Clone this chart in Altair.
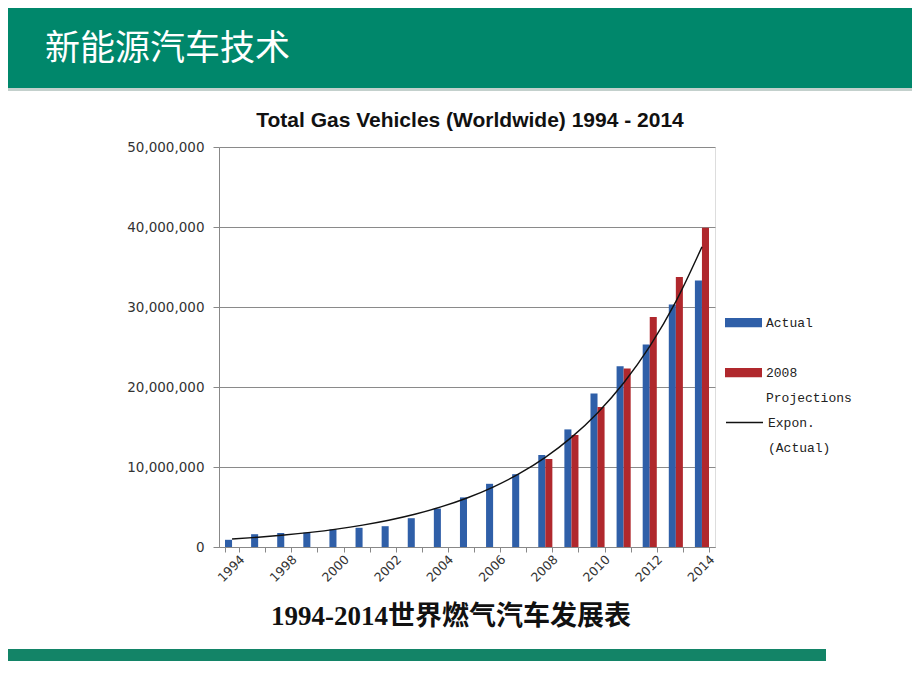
import json
import altair as alt
import pandas as pd

# ---------------- data ----------------
years = ["1994", "1996", "1998", "1999", "2000", "2001", "2002", "2003", "2004",
         "2005", "2006", "2007", "2008", "2009", "2010", "2011", "2012", "2013", "2014"]
actual = [900000, 1600000, 1750000, 1800000, 2200000, 2400000, 2600000, 3600000,
          4800000, 6200000, 7900000, 9100000, 11500000, 14700000, 19200000,
          22600000, 25300000, 30300000, 33300000]
proj_years = ["2008", "2009", "2010", "2011", "2012", "2013", "2014"]
projections = [11000000, 14000000, 17500000, 22300000, 28750000, 33750000, 39900000]
shown_labels = ["1994", "1998", "2000", "2002", "2004", "2006", "2008", "2010", "2012", "2014"]
y_ticks = [0, 10000000, 20000000, 30000000, 40000000, 50000000]
series_names = ["Actual", "2008 Projections"]
trend_name = "Expon. (Actual)"
header_title = "新能源汽车技术"
chart_title = "Total Gas Vehicles (Worldwide) 1994 - 2014"
caption = "1994-2014世界燃气汽车发展表"

proj_map = dict(zip(proj_years, projections))
df = pd.DataFrame({
    "year": years,
    "Actual": actual,
    "2008 Projections": [proj_map.get(y) for y in years],
})

GREEN = "#00876b"
BLUE = "#2f5fa8"
RED = "#b0282d"

x_enc = alt.X("year:N", sort=years,
              scale=alt.Scale(domain=years, paddingInner=0.46, paddingOuter=0.23),
              axis=alt.Axis(title=None, tickBand="extent", tickSize=5, tickColor="#888",
                            domainColor="#888", labelAngle=315, labelAlign="right",
                            labelBaseline="middle", labelFont="DejaVu Sans",
                            labelFontSize=12.5, labelColor="#333", labelPadding=5,
                            labelOffset=10,
                            labelExpr="indexof(" + json.dumps(shown_labels) +
                                      ", datum.value) >= 0 ? datum.label : ''"))

base = alt.Chart(df)

legend_common = dict(title=None, orient="none", labelFont="Liberation Mono",
                     labelFontSize=13, labelColor="#222", labelBaseline="middle",
                     labelOffset=4, labelExpr="split(datum.label, ' ')", padding=0,
                     symbolSize=1369)

bars = base.transform_fold(series_names, as_=["series", "value"]).transform_filter(
    "isValid(datum.value)"
).mark_bar().encode(
    x=x_enc,
    xOffset=alt.XOffset("series:N", sort=series_names,
                        scale=alt.Scale(domain=series_names)),
    y=alt.Y("value:Q", scale=alt.Scale(domain=[0, 50000000], nice=False),
            axis=alt.Axis(title=None, values=y_ticks, format=",d", grid=True,
                          gridColor="#8a8a8a", tickColor="#888", tickSize=6,
                          domainColor="#888", labelFont="DejaVu Sans",
                          labelFontSize=13.5, labelColor="#333", labelPadding=9)),
    color=alt.Color("series:N", sort=series_names,
                    scale=alt.Scale(domain=series_names, range=[BLUE, RED]),
                    legend=alt.Legend(legendX=506, legendY=157,
                                      symbolType="M-1,-0.25H1V0.25H-1Z",
                                      symbolStrokeWidth=0, rowPadding=24,
                                      **legend_common)),
)

trend = base.transform_window(
    idx="row_number()"
).transform_calculate(
    ly="log(datum.Actual)", tname="'" + trend_name + "'"
).transform_joinaggregate(
    mx="mean(idx)", my="mean(ly)"
).transform_calculate(
    sxy="(datum.idx - datum.mx) * (datum.ly - datum.my)",
    sxx="(datum.idx - datum.mx) * (datum.idx - datum.mx)",
).transform_joinaggregate(
    Sxy="sum(sxy)", Sxx="sum(sxx)"
).transform_calculate(
    trend="exp(datum.my + datum.Sxy / datum.Sxx * (datum.idx - datum.mx))"
).mark_line(interpolate="monotone", strokeWidth=1.4).encode(
    x=alt.X("year:N", sort=years),
    y=alt.Y("trend:Q"),
    stroke=alt.Stroke("tname:N",
                      scale=alt.Scale(domain=[trend_name], range=["#111"]),
                      legend=alt.Legend(legendX=506, legendY=256,
                                        symbolType="stroke", symbolStrokeWidth=1.3,
                                        **legend_common)),
)

one = pd.DataFrame({"a": [0]})

header = alt.Chart(one).mark_rect(color=GREEN).encode(
    x=alt.value(-211), x2=alt.value(700), y=alt.value(-150), y2=alt.value(-59))
shadow = alt.Chart(one).mark_rect(color="#c3d0cc").encode(
    x=alt.value(-211), x2=alt.value(700), y=alt.value(-59), y2=alt.value(-56))
header_text = alt.Chart(pd.DataFrame({"t": [header_title]})).mark_text(
    align="left", baseline="middle", font="Noto Sans CJK SC", fontSize=35, color="white"
).encode(text="t:N", x=alt.value(-174), y=alt.value(-98))
title_text = alt.Chart(pd.DataFrame({"t": [chart_title]})).mark_text(
    align="center", baseline="middle", font="Liberation Sans", fontSize=21,
    fontWeight="bold", color="#111"
).encode(text="t:N", x=alt.value(251), y=alt.value(-26))
caption_text = alt.Chart(pd.DataFrame({"t": [caption]})).mark_text(
    align="center", baseline="middle", font="'Liberation Serif', 'Noto Sans CJK SC'",
    fontSize=27, fontWeight="bold", color="#111"
).encode(text="t:N", x=alt.value(232), y=alt.value(470))
bottom_bar = alt.Chart(one).mark_rect(color="#138467").encode(
    x=alt.value(-211), x2=alt.value(607), y=alt.value(502), y2=alt.value(514))

chart = alt.layer(header, shadow, header_text, title_text, bars, trend, caption_text,
                  bottom_bar).resolve_scale(
    color="independent"
).properties(
    width=496, height=400,
    padding={"left": 211, "top": 139, "right": 197, "bottom": 135},
    autosize=alt.AutoSizeParams(type="none"),
).configure_view(stroke=None).configure(
    background="white", style={"guide-label": {"lineHeight": 25}}
)

chart.save("out.html", embed_options={"renderer": "svg", "actions": False})
